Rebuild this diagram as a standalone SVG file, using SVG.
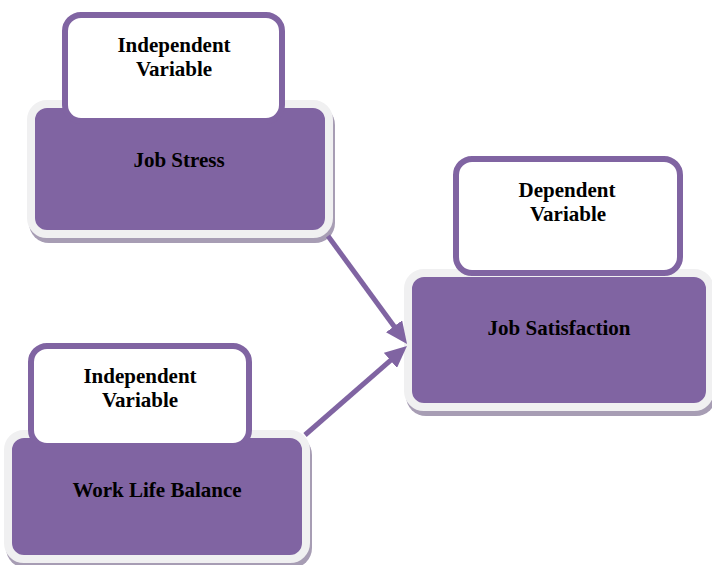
<svg xmlns="http://www.w3.org/2000/svg" width="712" height="565" viewBox="0 0 712 565">
  <style>
    .shadow { fill: #a79db4; }
    .base { fill: #8064a2; stroke: #f0f0f1; stroke-width: 8; }
    .tag { fill: #ffffff; stroke: #8064a2; stroke-width: 6; }
    .label { font-family: "Liberation Serif", "Times New Roman", serif; font-weight: bold; font-size: 21px; fill: #000000; text-anchor: middle; }
    .link { stroke: #8064a2; stroke-width: 5; fill: none; marker-end: url(#head); }
  </style>
  <defs>
    <marker id="head" markerUnits="userSpaceOnUse" markerWidth="22" markerHeight="20" refX="4" refY="10" orient="auto">
      <path d="M0,0 L22,10 L0,20 z" fill="#8064a2"/>
    </marker>
  </defs>
  <rect width="712" height="565" fill="#ffffff"/>

  <!-- Job Stress -->
  <g id="job-stress">
    <rect class="shadow" x="29" y="105" width="306" height="138" rx="20"/>
    <rect class="base" x="31" y="104" width="298" height="130" rx="16"/>
    <rect class="tag" x="65" y="15" width="217" height="106" rx="16"/>
    <text class="label" x="174" y="52">Independent</text>
    <text class="label" x="174" y="76">Variable</text>
    <text class="label" x="179" y="167">Job Stress</text>
  </g>

  <!-- Job Satisfaction -->
  <g id="job-satisfaction">
    <rect class="shadow" x="406" y="274" width="310" height="142" rx="20"/>
    <rect class="base" x="408" y="273" width="302" height="134" rx="16"/>
    <rect class="tag" x="456" y="159" width="224" height="114" rx="16"/>
    <text class="label" x="567" y="197">Dependent</text>
    <text class="label" x="568" y="221">Variable</text>
    <text class="label" x="559" y="335">Job Satisfaction</text>
  </g>

  <!-- Work Life Balance -->
  <g id="work-life-balance">
    <rect class="shadow" x="6" y="435" width="306" height="133" rx="20"/>
    <rect class="base" x="8" y="434" width="298" height="125" rx="16"/>
    <rect class="tag" x="31" y="346" width="218" height="100" rx="16"/>
    <text class="label" x="140" y="383">Independent</text>
    <text class="label" x="140" y="407">Variable</text>
    <text class="label" x="157" y="497">Work Life Balance</text>
  </g>

  <!-- Connectors -->
  <g id="connectors">
    <line class="link" x1="328" y1="236" x2="396.4" y2="329.5"/>
    <line class="link" x1="305" y1="435" x2="393.4" y2="357.8"/>
  </g>
</svg>
